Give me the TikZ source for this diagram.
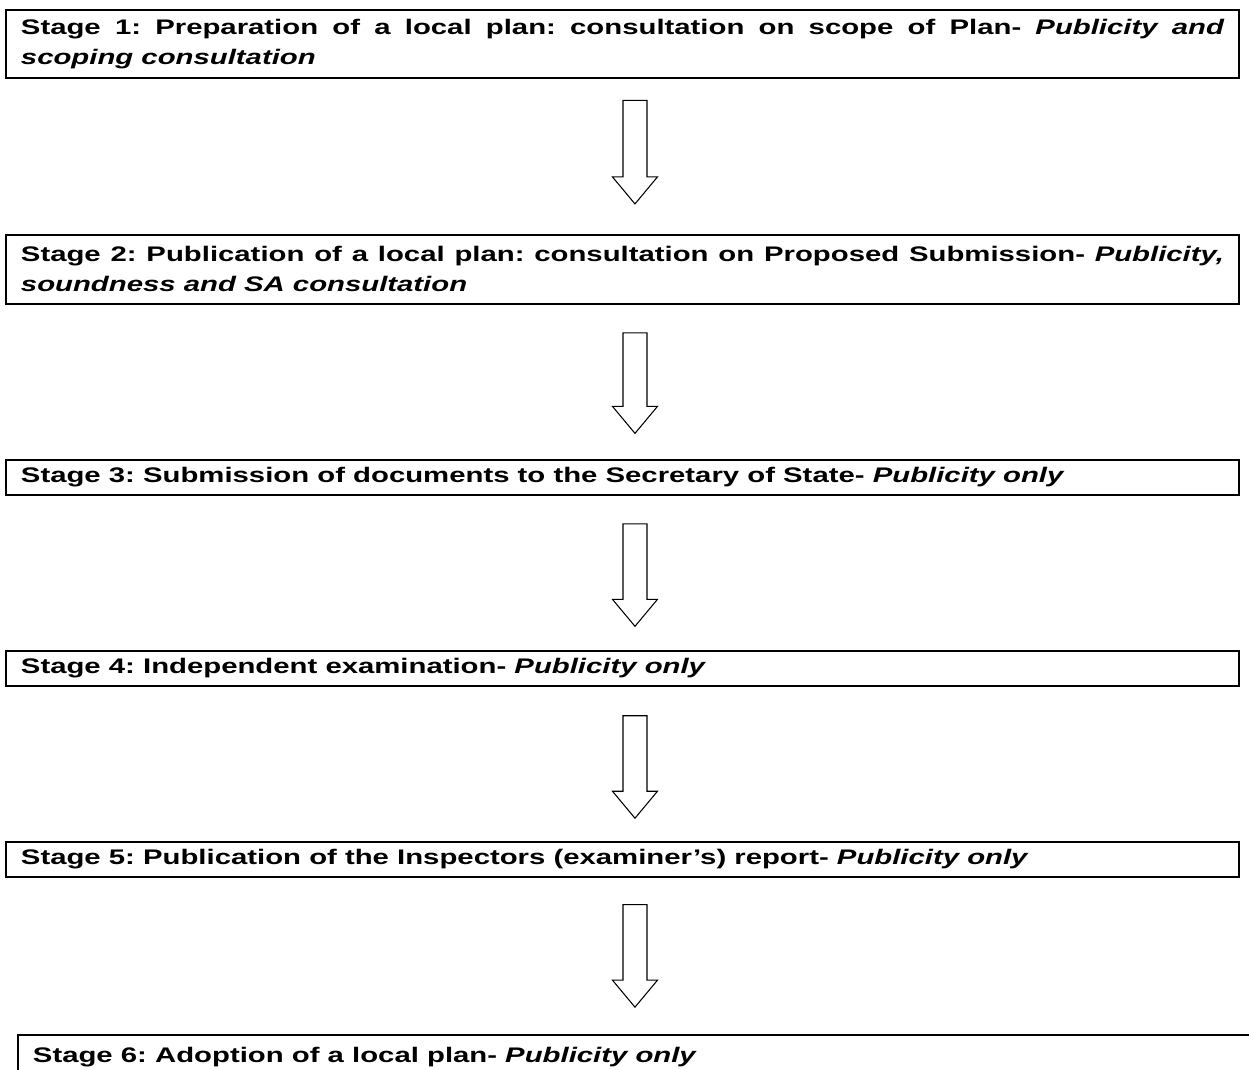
\documentclass[tikz,border=0pt]{standalone}
\usepackage{fontspec}
\setmainfont{Liberation Sans}[FakeStretch=1.39]
\usetikzlibrary{positioning, calc}
\frenchspacing

% hollow block arrow from shaft top (#1) down to tip (#2)
\newcommand{\blockarrow}[2]{%
  \draw[flow] let \p1 = (#1), \p2 = (#2) in
    (\x1-0.24cm,\y1) -- (\x1+0.24cm,\y1) -- (\x1+0.24cm,\y2+0.54cm)
    -- (\x1+0.45cm,\y2+0.54cm) -- (\x1,\y2) -- (\x1-0.45cm,\y2+0.54cm)
    -- (\x1-0.24cm,\y2+0.54cm) -- cycle;}

\begin{document}
\begin{tikzpicture}[node distance=3.09cm,
    stage/.style={draw, line width=1.1pt, text width=24.06cm, inner xsep=0.3cm,
      inner ysep=0pt, align=justify, minimum height=0.69cm,
      font=\fontsize{12}{17}\selectfont\bfseries},
    flow/.style={line width=0.6pt, line join=miter}]
    \useasboundingbox (0,0) rectangle (24.98,-21.40);
    \clip (0,0) rectangle (24.98,-21.40);

    % Place the stage boxes
    \node (s1) [stage, minimum height=1.36cm, anchor=north west] at (0.10,-0.19)
      {Stage 1: Preparation of a local plan: consultation on scope of Plan- \textit{Publicity and\linebreak scoping consultation}};
    \node (s2) [stage, minimum height=1.38cm, below=of s1]
      {Stage 2: Publication of a local plan: consultation on Proposed Submission- \textit{Publicity,\linebreak soundness and SA consultation}};
    \node (s3) [stage, below=of s2]
      {Stage 3: Submission of documents to the Secretary of State- \textit{Publicity only}};
    \node (s4) [stage, below=of s3]
      {Stage 4: Independent examination- \textit{Publicity only}};
    \node (s5) [stage, below=of s4]
      {Stage 5: Publication of the Inspectors (examiner’s) report- \textit{Publicity only}};
    \node (s6) [stage, text width=24.36cm, minimum height=0.86cm, below right=3.13cm and 0.24cm of s5.south west]
      {Stage 6: Adoption of a local plan- \textit{Publicity only}};

    % Shaft tops and tips of the arrows
    \coordinate (a1) at ($(s1.south)+(0.25,-0.42)$);
    \coordinate (b1) at ($(s2.north)+(0.25,0.60)$);
    \coordinate (a2) at ($(s2.south)+(0.25,-0.56)$);
    \coordinate (b2) at ($(s3.north)+(0.25,0.52)$);
    \coordinate (a3) at ($(s3.south)+(0.25,-0.56)$);
    \coordinate (b3) at ($(s4.north)+(0.25,0.48)$);
    \coordinate (a4) at ($(s4.south)+(0.25,-0.58)$);
    \coordinate (b4) at ($(s5.north)+(0.25,0.46)$);
    \coordinate (a5) at ($(s5.south)+(0.25,-0.54)$);
    \coordinate (b5) at ($(s6.north west)+(12.34,0.54)$);

    % Draw the arrows
    \blockarrow{a1}{b1}
    \blockarrow{a2}{b2}
    \blockarrow{a3}{b3}
    \blockarrow{a4}{b4}
    \blockarrow{a5}{b5}
\end{tikzpicture}
\end{document}
